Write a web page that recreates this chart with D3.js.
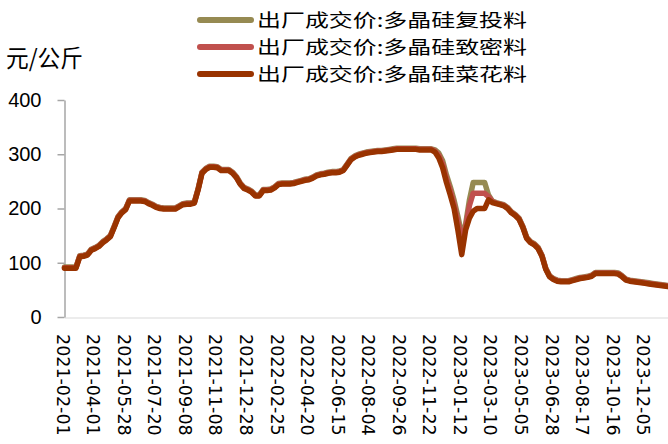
<!DOCTYPE html>
<html><head><meta charset="utf-8">
<script src="https://cdn.jsdelivr.net/npm/d3@7"></script>
<style>
html,body{margin:0;padding:0;background:#fff;}
svg{display:block;}
</style></head>
<body>
<svg id="chart" width="668" height="444"></svg>
<script>
const seriesNames = ["出厂成交价:多晶硅复投料", "出厂成交价:多晶硅致密料", "出厂成交价:多晶硅菜花料"];
const seriesColors = ["#968a52", "#c0504d", "#993300"];
const tickLabels = ["2021-02-01","2021-04-01","2021-05-28","2021-07-20","2021-09-08","2021-11-08","2021-12-28","2022-02-25","2022-04-20","2022-06-15","2022-08-04","2022-09-26","2022-11-22","2023-01-12","2023-03-10","2023-05-05","2023-06-28","2023-08-17","2023-10-16","2023-12-05"];
const pointsPerLabel = 8;
const yTicks = [0, 100, 200, 300, 400];

const olive = [92,92,92,92,113,114,116,125,128,132,
139,144,150,167,185,194,200,216,216,216,
216,215,211,208,204,202,201,201,201,201,
205,209,210,210,212,237,267,274,278,278,
277,272,272,272,267,259,247,239,236,232,
225,225,235,235,236,240,246,247,247,247,
248,250,252,254,255,258,262,264,265,267,
268,268,269,272,282,292,297,300,302,304,
305,306,307,307,308,309,310,311,311,311,
311,311,311,310,310,310,310,308,302,288,
262,240,215,185,152,170,215,248,248,248,
248,225,214,211,209,207,202,194,189,182,
167,147,139,135,128,114,90,76,71,68,
67,67,67,69,71,73,74,75,77,82,
82,82,82,82,82,81,76,70,68,67,
66,65,64,63,62,61,60,59,58];

const dense = [91,91,91,91,112,113,115,124,127,131,
138,143,149,166,184,193,199,215,215,215,
215,214,210,207,203,201,200,200,200,200,
204,208,209,209,211,236,266,273,277,277,
276,271,271,271,266,258,246,238,235,231,
224,224,234,234,235,239,245,246,246,246,
247,249,251,253,254,257,261,263,264,266,
267,267,268,271,281,291,296,299,301,303,
304,305,306,306,307,308,309,310,310,310,
310,310,310,309,309,309,309,306,298,282,
255,233,208,175,145,165,205,228,228,228,
228,222,213,210,208,206,201,193,188,181,
166,146,138,134,127,113,89,75,70,67,
66,66,66,68,70,72,73,74,76,81,
81,81,81,81,81,80,75,69,67,66,
65,64,63,62,61,60,59,58,57];

const cauliflower = [90,90,90,90,111,112,114,123,126,130,
137,142,148,165,183,192,198,214,214,214,
214,213,209,206,202,200,199,199,199,199,
203,207,208,208,210,235,265,272,276,276,
275,270,270,270,265,257,245,237,234,230,
223,223,233,233,234,238,244,245,245,245,
246,248,250,252,253,256,260,262,263,265,
266,266,267,270,280,290,295,298,300,302,
303,304,305,305,306,307,308,309,309,309,
309,309,309,308,308,308,308,304,293,275,
248,225,200,160,115,160,182,195,200,200,
200,216,211,209,207,205,200,192,187,180,
165,145,137,133,126,112,88,74,69,66,
65,65,65,67,69,71,72,73,75,80,
80,80,80,80,80,79,74,68,66,65,
64,63,62,61,60,59,58,57,56];

const allSeries = [olive, dense, cauliflower];

(function () {
  const svg = d3.select("#chart");
  const pLeft = 64.5, pRight = 668, pTop = 100, pBottom = 317;
  const n = cauliflower.length;
  const x = d3.scaleLinear().domain([0, n - 1]).range([pLeft, pRight]);
  const y = d3.scaleLinear().domain([0, 400]).range([pBottom, pTop]);

  // x axis line
  const xAxis = d3.axisBottom(x).tickValues([]).tickSize(0).tickSizeOuter(0);
  svg.append("g").attr("transform", `translate(0,${pBottom + 0.5})`).call(xAxis)
    .call(g => g.select(".domain").attr("stroke", "#d9d9d9").attr("stroke-width", 1.2));

  // x labels
  svg.append("g").selectAll("text").data(tickLabels).join("text")
    .attr("transform", (d, i) => `translate(${x(i * pointsPerLabel) - 1.5},334) rotate(90)`)
    .attr("dy", "0.36em")
    .attr("font-family", "DejaVu Sans")
    .attr("font-size", 17.5)
    .attr("fill", "#000")
    .text(d => d);

  // y axis
  const yAxis = d3.axisLeft(y).tickValues(yTicks).tickSize(7).tickPadding(16).tickSizeOuter(0);
  svg.append("g").attr("transform", `translate(${pLeft},0)`).call(yAxis)
    .call(g => g.select(".domain").attr("stroke", "#a6a6a6").attr("stroke-width", 1.5))
    .call(g => g.selectAll(".tick line").attr("stroke", "#a6a6a6").attr("stroke-width", 1.5))
    .call(g => g.selectAll(".tick text").attr("font-family", "Liberation Sans").attr("font-size", 20).attr("fill", "#000"));

  // unit
  svg.append("text").attr("x", 6).attr("y", 67)
    .attr("font-family", "Noto Sans CJK SC").attr("font-size", 24).attr("fill", "#000")
    .attr("textLength", 77).attr("lengthAdjust", "spacingAndGlyphs")
    .text("元/公斤");

  // lines
  const line = d3.line().x((d, i) => x(i)).y(d => y(d));
  svg.append("g").selectAll("path").data(allSeries).join("path")
    .attr("d", d => line(d))
    .attr("fill", "none")
    .attr("stroke", (d, i) => seriesColors[i])
    .attr("stroke-width", 5.5)
    .attr("stroke-linejoin", "round")
    .attr("stroke-linecap", "round");

  // legend
  const lg = svg.append("g");
  seriesNames.forEach((name, i) => {
    const yy = 20 + i * 27;
    lg.append("line").attr("x1", 200).attr("x2", 251).attr("y1", yy).attr("y2", yy)
      .attr("stroke", seriesColors[i]).attr("stroke-width", 6).attr("stroke-linecap", "round");
    lg.append("text").attr("x", 257).attr("y", yy).attr("dy", "0.36em")
      .attr("font-family", "Noto Sans CJK SC").attr("font-size", 18.5).attr("fill", "#000")
      .attr("textLength", 270).attr("lengthAdjust", "spacingAndGlyphs")
      .text(name);
  });
})();
</script>
</body></html>
